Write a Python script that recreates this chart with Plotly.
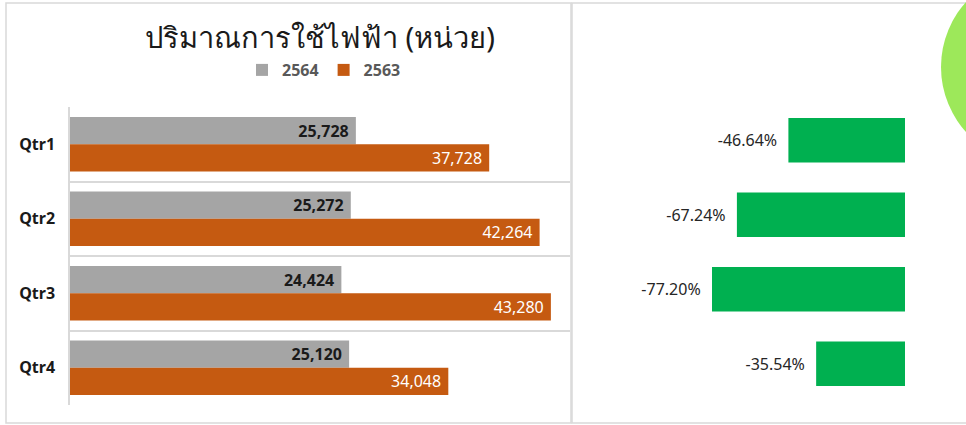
import plotly.graph_objects as go

# data
quarters = ["Qtr1", "Qtr2", "Qtr3", "Qtr4"]
usage_2564 = [25728, 25272, 24424, 25120]
usage_2563 = [37728, 42264, 43280, 34048]
change_pct = [-46.64, -67.24, -77.20, -35.54]

GRAY = "#a5a5a5"
ORANGE = "#c55a11"
GREEN = "#00b050"
FONT = "Noto Sans, Liberation Sans, sans-serif"
PAD = "\u00a0"

W, H = 966, 425


def px(x):
    return x / W


def py(y):
    return 1 - y / H


fig = go.Figure()

# y axis is reversed, so the first trace is drawn on top in each group
fig.add_trace(
    go.Bar(
        y=quarters,
        x=usage_2564,
        orientation="h",
        name="<b>2564</b>",
        marker=dict(color=GRAY, line=dict(width=0)),
        text=[f"<b>{v:,}</b>{PAD}" for v in usage_2564],
        textposition="inside",
        insidetextanchor="end",
        textfont=dict(color="#1a1a1a", size=16, family=FONT),
        xaxis="x",
        yaxis="y",
    )
)
fig.add_trace(
    go.Bar(
        y=quarters,
        x=usage_2563,
        orientation="h",
        name="<b>2563</b>",
        marker=dict(color=ORANGE, line=dict(width=0)),
        text=[f"{v:,}{PAD}" for v in usage_2563],
        textposition="inside",
        insidetextanchor="end",
        textfont=dict(color="white", size=16, family=FONT),
        xaxis="x",
        yaxis="y",
    )
)

# right panel: percentage change
fig.add_trace(
    go.Bar(
        y=quarters,
        x=change_pct,
        orientation="h",
        marker=dict(color=GREEN, line=dict(width=0)),
        text=[f"{v:.2f}%{PAD * 2}" for v in change_pct],
        textposition="outside",
        textfont=dict(color="#262626", size=16, family=FONT),
        cliponaxis=False,
        showlegend=False,
        width=0.6,
        xaxis="x2",
        yaxis="y2",
    )
)

fig.update_layout(
    width=W,
    height=H,
    margin=dict(l=0, r=0, t=0, b=0),
    paper_bgcolor="white",
    plot_bgcolor="rgba(0,0,0,0)",
    barmode="group",
    bargap=0.27,
    bargroupgap=0,
    font=dict(family=FONT),
    title=dict(
        text="ปริมาณการใช้ไฟฟ้า (หน่วย)",
        x=px(320),
        xanchor="center",
        y=py(38),
        yanchor="middle",
        font=dict(size=29, color="#1a1a1a"),
    ),
    showlegend=True,
    legend=dict(
        orientation="h",
        x=px(324),
        xanchor="center",
        y=py(70),
        yanchor="middle",
        font=dict(size=16, color="#595959"),
        itemwidth=30,
    ),
    xaxis=dict(
        domain=[px(70), px(570)],
        range=[0, 45000],
        showgrid=False,
        zeroline=False,
        showticklabels=False,
        showline=False,
    ),
    yaxis=dict(
        domain=[py(405), py(107)],
        autorange="reversed",
        tickson="boundaries",
        tickvals=quarters,
        ticktext=[f"<b>{q}</b>" for q in quarters],
        showgrid=True,
        gridcolor="#d9d9d9",
        gridwidth=1.5,
        showline=True,
        linecolor="#d9d9d9",
        linewidth=1.5,
        ticks="",
        tickfont=dict(size=16, color="#1a1a1a", family=FONT),
        ticklabelstandoff=10,
        zeroline=False,
    ),
    xaxis2=dict(
        domain=[px(571), 1.0],
        range=[-133.6, 24.4],
        showgrid=False,
        zeroline=False,
        showticklabels=False,
        showline=False,
        anchor="y2",
    ),
    yaxis2=dict(
        domain=[py(401), py(103)],
        autorange="reversed",
        showgrid=False,
        showticklabels=False,
        showline=False,
        zeroline=False,
        ticks="",
        anchor="x2",
    ),
    uniformtext=dict(mode="show", minsize=10),
)

# frames around the two panels and the partly visible pie at top right
fig.add_shape(
    type="rect", xref="paper", yref="paper",
    x0=px(6), x1=px(571), y0=py(423), y1=py(3),
    line=dict(color="#d9d9d9", width=1.5), layer="below",
)
fig.add_shape(
    type="rect", xref="paper", yref="paper",
    x0=px(572), x1=1.02, y0=py(423), y1=py(3),
    line=dict(color="#d9d9d9", width=1.5), layer="below",
)
fig.add_shape(
    type="circle", xref="paper", yref="paper",
    x0=px(941), x1=px(1135), y0=py(164), y1=py(-30),
    fillcolor="#9de85a", line=dict(width=0), layer="below",
)

# drop the default page margin so the figure sits at the window's corner
fig.write_html(
    "out.html",
    config={"displayModeBar": False},
    post_script="document.body.style.margin = '0';",
)
